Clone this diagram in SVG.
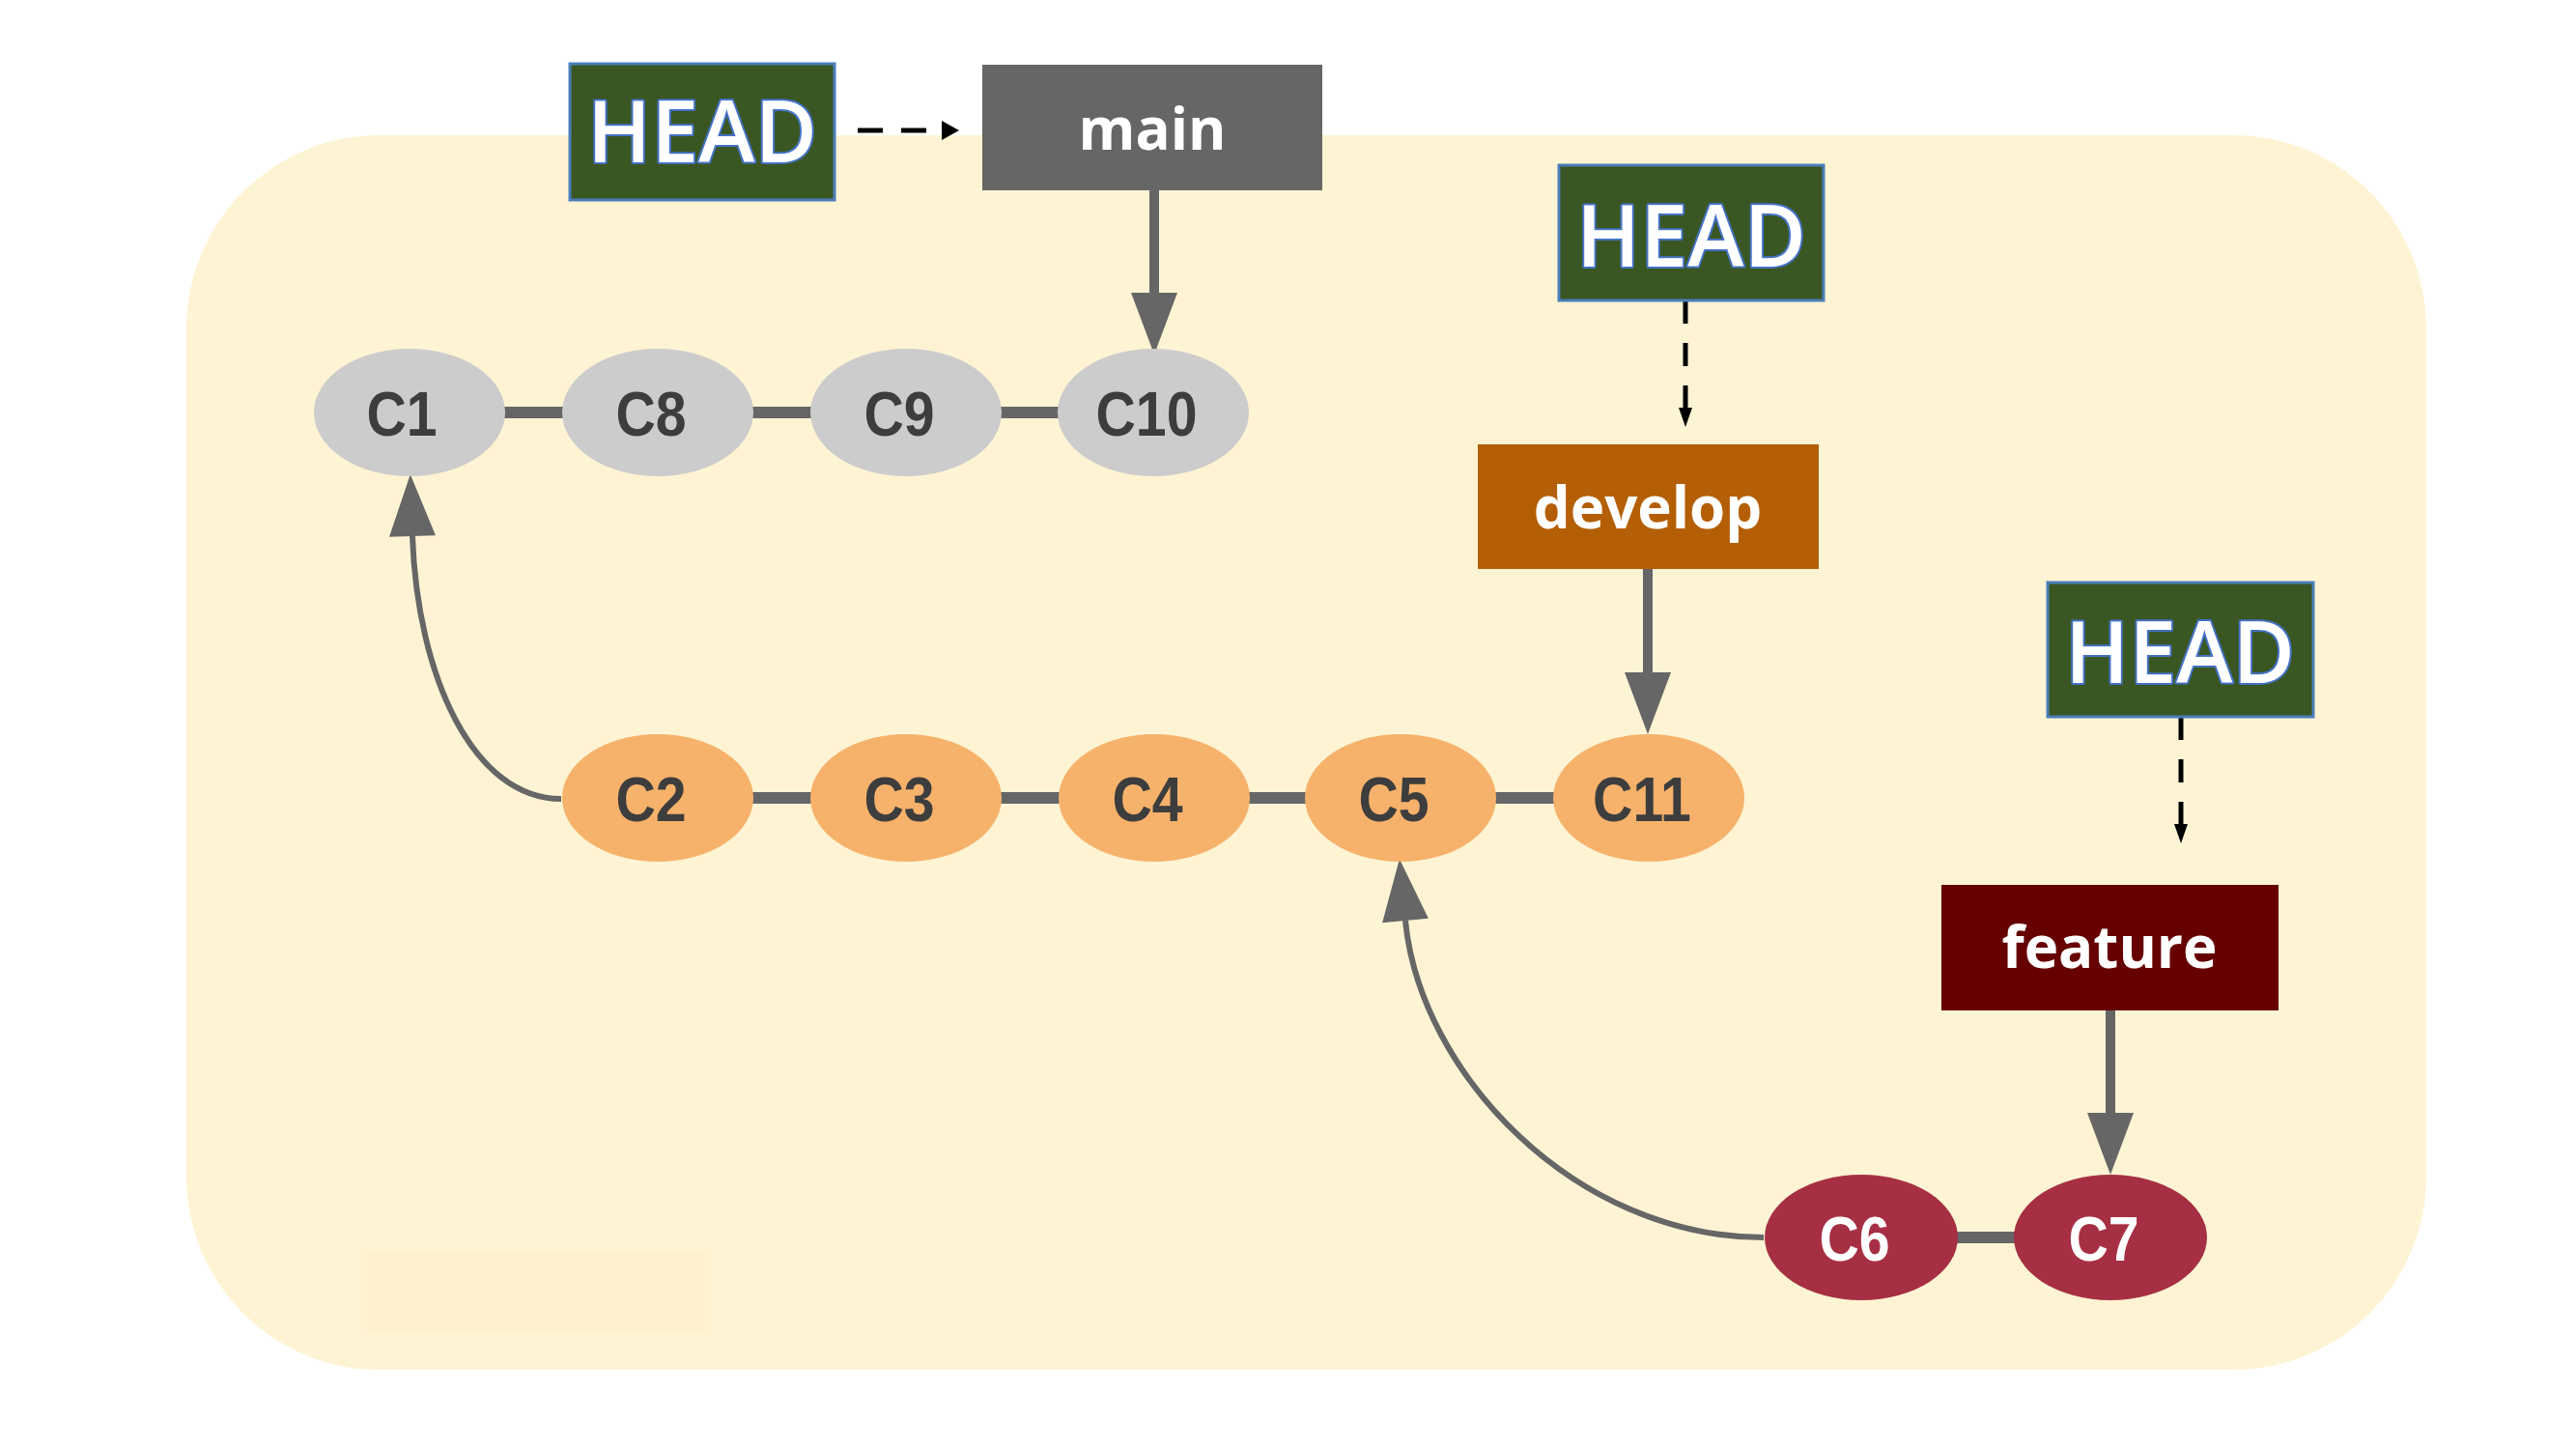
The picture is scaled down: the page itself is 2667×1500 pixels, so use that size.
<svg xmlns="http://www.w3.org/2000/svg" width="2667" height="1500" viewBox="0 0 2667 1500">
  <defs>
    <style>
      .commit text { font-family: "Liberation Sans", Arial, sans-serif; font-weight: bold; font-size: 65px; text-anchor: middle; transform-box: fill-box; transform-origin: center; transform: scale(0.88, 1); }
      .gray ellipse { fill: #cccccc; }
      .gray text, .orange text { fill: #3d3d3d; }
      .orange ellipse { fill: #f6b26b; }
      .red ellipse { fill: #a62f43; }
      .red text { fill: #ffffff; }
      .branch text { font-family: "Open Sans", "Noto Sans", sans-serif; font-weight: 700; font-size: 60px; fill: #ffffff; text-anchor: middle; }
      .head rect { fill: #3a5622; stroke: #4a7ebb; stroke-width: 3; }
      .head text { font-family: "Open Sans", "Noto Sans", sans-serif; font-weight: 600; font-size: 88px; fill: #ffffff; stroke: #4472c4; stroke-width: 4; paint-order: stroke; stroke-linejoin: round; text-anchor: middle; }
      .edge { stroke: #666666; stroke-width: 12; fill: none; }
      .ptr { stroke: #666666; stroke-width: 10; fill: none; marker-end: url(#grayArrow); }
      .parent { stroke: #666666; stroke-width: 6; fill: none; marker-end: url(#grayArrow); }
      .headptr { stroke: #000000; stroke-width: 5; fill: none; }
    </style>
    <marker id="grayArrow" markerUnits="userSpaceOnUse" markerWidth="64" markerHeight="48" refX="0" refY="24" orient="auto" overflow="visible">
      <path d="M0,0 L64,24 L0,48 Z" fill="#666666"/>
    </marker>
    <marker id="blackArrowH" markerUnits="userSpaceOnUse" markerWidth="18" markerHeight="20" refX="0" refY="10" orient="auto" overflow="visible">
      <path d="M0,0 L18,10 L0,20 Z" fill="#000000"/>
    </marker>
    <marker id="blackArrowV" markerUnits="userSpaceOnUse" markerWidth="20" markerHeight="14" refX="0" refY="7" orient="auto" overflow="visible">
      <path d="M0,0 L20,7 L0,14 Z" fill="#000000"/>
    </marker>
  </defs>

  <rect width="2667" height="1500" fill="#ffffff"/>
  <rect id="repo" x="193" y="140" width="2319" height="1278" rx="200" ry="200" fill="#fef4d4"/>
  <rect x="380" y="1295" width="355" height="83" fill="#fff0cf" opacity="0.7"/>

  <g id="connectors">
    <line class="edge" x1="424" y1="427" x2="1194" y2="427"/>
    <line class="edge" x1="681" y1="826" x2="1707" y2="826"/>
    <line class="edge" x1="1927" y1="1281" x2="2185" y2="1281"/>
    <path class="parent" d="M581,827 C490,827 432,700 427,555"/>
    <path class="parent" d="M1826,1281 C1630,1281 1470,1110 1455,953"/>
    <line class="ptr" x1="1195" y1="197" x2="1195" y2="303"/>
    <line class="ptr" x1="1706" y1="589" x2="1706" y2="696"/>
    <line class="ptr" x1="2185" y1="1046" x2="2185" y2="1152"/>
    <path class="headptr" d="M888,135 L975,135" stroke-dasharray="26 19" marker-end="url(#blackArrowH)"/>
    <path class="headptr" d="M1745,311 L1745,422" stroke-width="4" stroke-dasharray="24 20" marker-end="url(#blackArrowV)"/>
    <path class="headptr" d="M2258,742 L2258,853" stroke-width="4" stroke-dasharray="24 20" marker-end="url(#blackArrowV)"/>
  </g>

  <g id="C1" class="commit gray"><ellipse cx="424" cy="427" rx="99" ry="66"/><text x="416" y="451">C1</text></g>
  <g id="C8" class="commit gray"><ellipse cx="681" cy="427" rx="99" ry="66"/><text x="674" y="451">C8</text></g>
  <g id="C9" class="commit gray"><ellipse cx="938" cy="427" rx="99" ry="66"/><text x="931" y="451">C9</text></g>
  <g id="C10" class="commit gray"><ellipse cx="1194" cy="427" rx="99" ry="66"/><text x="1187" y="451">C10</text></g>

  <g id="C2" class="commit orange"><ellipse cx="681" cy="826" rx="99" ry="66"/><text x="674" y="850">C2</text></g>
  <g id="C3" class="commit orange"><ellipse cx="938" cy="826" rx="99" ry="66"/><text x="931" y="850">C3</text></g>
  <g id="C4" class="commit orange"><ellipse cx="1195" cy="826" rx="99" ry="66"/><text x="1188" y="850">C4</text></g>
  <g id="C5" class="commit orange"><ellipse cx="1450" cy="826" rx="99" ry="66"/><text x="1443" y="850">C5</text></g>
  <g id="C11" class="commit orange"><ellipse cx="1707" cy="826" rx="99" ry="66"/><text x="1700" y="850">C11</text></g>

  <g id="C6" class="commit red"><ellipse cx="1927" cy="1281" rx="100" ry="65"/><text x="1920" y="1305">C6</text></g>
  <g id="C7" class="commit red"><ellipse cx="2185" cy="1281" rx="100" ry="65"/><text x="2178" y="1305">C7</text></g>

  <g id="main" class="branch"><rect x="1017" y="67" width="352" height="130" fill="#666666"/><text x="1193" y="155">main</text></g>
  <g id="develop" class="branch"><rect x="1530" y="460" width="353" height="129" fill="#b45f06"/><text x="1706" y="547">develop</text></g>
  <g id="feature" class="branch"><rect x="2010" y="916" width="349" height="130" fill="#660000"/><text x="2184" y="1002">feature</text></g>

  <g id="HEAD-main" class="head"><rect x="590" y="66" width="274" height="141"/><text x="727" y="168">HEAD</text></g>
  <g id="HEAD-develop" class="head"><rect x="1614" y="171" width="274" height="140"/><text x="1751" y="276">HEAD</text></g>
  <g id="HEAD-feature" class="head"><rect x="2120" y="603" width="275" height="139"/><text x="2257" y="707">HEAD</text></g>
</svg>
